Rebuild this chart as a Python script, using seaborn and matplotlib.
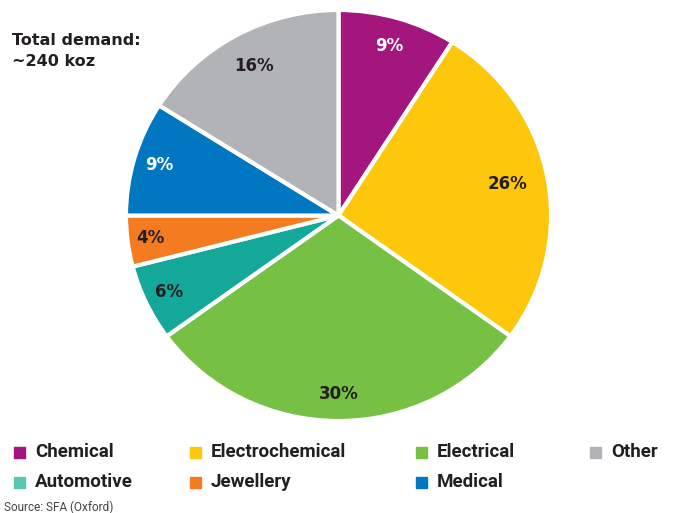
import numpy as np
import matplotlib.pyplot as plt
import matplotlib.patches as mpatches
import seaborn as sns

sns.set_style('white')
plt.rcParams['font.family'] = ['DejaVu Sans']

# data
segments = ['Chemical', 'Electrochemical', 'Electrical', 'Automotive', 'Jewellery', 'Medical', 'Other']
shares = [9, 26, 30, 6, 4, 9, 16]
colors = ['#A2167E', '#FDC70C', '#76C043', '#14A89A', '#F47B20', '#0077C0', '#B1B3B6']
label_colors = ['white', '#231F20', '#231F20', '#231F20', '#231F20', 'white', '#231F20']

# legend order as in reference
legend_rows = [['Chemical', 'Electrochemical', 'Electrical', 'Other'],
               ['Automotive', 'Jewellery', 'Medical']]
legend_colors = {'Chemical': '#A2167E', 'Electrochemical': '#FDC70C', 'Electrical': '#76C043',
                 'Other': '#B1B3B6', 'Automotive': '#5CC6B0', 'Jewellery': '#F47B20',
                 'Medical': '#0077C0'}

# how far out each percentage label sits (fraction of radius)
label_radius = [0.86, 0.81, 0.87, 0.88, 0.89, 0.88, 0.83]

fig = plt.figure(figsize=(6.76, 5.13), dpi=100)
ax = fig.add_axes([126 / 676, 92 / 513, 425 / 676, 411 / 513])

wedges, texts, autotexts = ax.pie(
    shares, colors=colors, startangle=90, counterclock=False,
    autopct='%d%%', pctdistance=0.83,
    wedgeprops=dict(edgecolor='white', linewidth=3),
    textprops=dict(fontsize=12, fontweight='bold'))
for w, t, c, r in zip(wedges, autotexts, label_colors, label_radius):
    ang = np.deg2rad((w.theta1 + w.theta2) / 2)
    t.set_position((r * np.cos(ang), r * np.sin(ang)))
    t.set_color(c)
ax.set_xlim(-1.0, 1.0)
ax.set_ylim(-1.0, 1.0)
ax.set_aspect('auto')

fig.text(0.018, 0.935, 'Total demand:\n~240 koz', fontsize=11.5, fontweight='bold',
         color='#231F20', va='top', ha='left', linespacing=1.45)

# manual legend
col_x = [14, 190, 416, 590]
row_y = [452, 482]
for r, row in enumerate(legend_rows):
    for c, name in enumerate(row):
        x = col_x[c] / 676
        y = 1 - row_y[r] / 513
        fig.patches.append(mpatches.Rectangle((x, y - 0.011), 11 / 676, 11 / 513,
                                              transform=fig.transFigure,
                                              color=legend_colors[name]))
        fig.text(x + 21 / 676, y, name, fontsize=13.5, fontweight='bold',
                 family=['Roboto', 'DejaVu Sans'],
                 color='#231F20', va='center', ha='left')

fig.text(0.006, 0.012, 'Source: SFA (Oxford)', fontsize=8.5,
         family=['Roboto', 'DejaVu Sans'], color='#444444',
         va='center', ha='left')

fig.savefig('out.png', dpi=100)
